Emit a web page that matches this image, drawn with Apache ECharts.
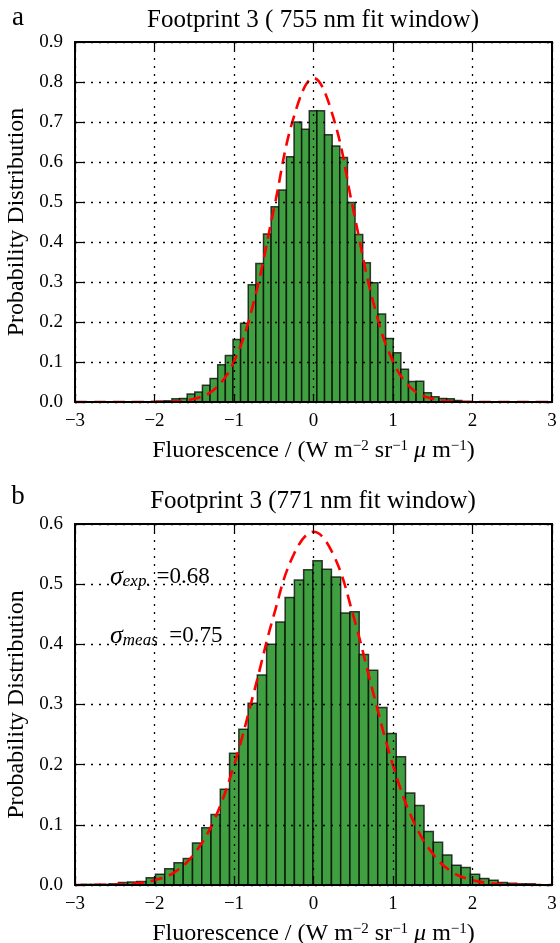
<!DOCTYPE html>
<html>
<head>
<meta charset="utf-8">
<script src="https://cdn.jsdelivr.net/npm/echarts@6/dist/echarts.min.js"></script>
<style>
  html, body { margin: 0; padding: 0; background: #fff; }
  #chart { width: 560px; height: 943px; }
</style>
</head>
<body>
<div id="chart"></div>
<script>
// panel a: 755 nm fit window histogram
const binStartA = -1.973
const binWidthA = 0.096
const countsA = [0.002, 0.003, 0.008, 0.009, 0.020, 0.025, 0.042, 0.059, 0.093, 0.116,
  0.156, 0.197, 0.293, 0.346, 0.420, 0.488, 0.530, 0.613, 0.700, 0.682,
  0.728, 0.728, 0.668, 0.640, 0.611, 0.499, 0.419, 0.348, 0.298, 0.220,
  0.159, 0.123, 0.082, 0.051, 0.052, 0.023, 0.013, 0.009, 0.008, 0.004]

// panel b: 771 nm fit window histogram
const binStartB = -2.92
const binWidthB = 0.1165
const countsB = [0.001, 0.001, 0.001, 0.002, 0.004, 0.005, 0.006, 0.012, 0.018, 0.027,
  0.037, 0.044, 0.070, 0.095, 0.117, 0.159, 0.219, 0.259, 0.302, 0.349,
  0.400, 0.437, 0.478, 0.507, 0.524, 0.539, 0.525, 0.512, 0.452, 0.454,
  0.383, 0.357, 0.295, 0.252, 0.213, 0.153, 0.132, 0.089, 0.071, 0.050,
  0.033, 0.029, 0.018, 0.011, 0.008, 0.004, 0.003, 0.002, 0.002]

// red dashed fits
const fitX = [-3, -2.75, -2.5, -2.25, -2, -1.75, -1.5, -1.25, -1, -0.75, -0.5, -0.25, 0,
  0.25, 0.5, 0.75, 1, 1.25, 1.5, 1.75, 2, 2.25, 2.5, 2.75, 3]
const fitA = [0, 0, 0, 0.0001, 0.0003, 0.0015, 0.008, 0.031, 0.101, 0.251, 0.481, 0.711, 0.81,
  0.711, 0.481, 0.251, 0.101, 0.031, 0.008, 0.0015, 0.0003, 0.0001, 0, 0, 0]
const fitB = [0, 0.0002, 0.0007, 0.0025, 0.008, 0.021, 0.052, 0.108, 0.199, 0.32, 0.448, 0.549, 0.587,
  0.549, 0.448, 0.32, 0.199, 0.108, 0.052, 0.021, 0.008, 0.0025, 0.0007, 0.0002, 0]

const titleA = 'Footprint 3 ( 755 nm fit window)'
const titleB = 'Footprint 3 (771 nm fit window)'

const FONT = '"Liberation Serif", "DejaVu Serif", serif'

function bins(start, width, counts) {
  return counts.map((c, i) => [start + i * width, start + (i + 1) * width, c])
}

function renderBar(params, api) {
  const p0 = api.coord([api.value(0), api.value(2)])
  const p1 = api.coord([api.value(1), 0])
  return {
    type: 'rect',
    shape: { x: p0[0], y: p0[1], width: p1[0] - p0[0], height: p1[1] - p0[1] },
    style: { fill: '#409f40', stroke: 'rgba(0,0,0,0.75)', lineWidth: 1.5 }
  }
}

const minus = v => String(v).replace('-', '\u2212')

function xAxes(gridIndex) {
  const base = {
    gridIndex, type: 'value', min: -3, max: 3, interval: 1, z: 5,
    axisLine: { onZero: false, lineStyle: { color: '#000', width: 2 } },
    axisTick: { inside: true, length: 8, lineStyle: { color: '#000', width: 1.2 } }
  }
  return [
    Object.assign({}, base, {
      position: 'bottom',
      axisLabel: { color: '#000', fontFamily: FONT, fontSize: 19, margin: 10, formatter: minus },
      splitLine: { show: true, lineStyle: { color: '#000', type: [2, 6], width: 1.3 } },
      name: '{t|Fluorescence / (W m}{s|\u22122}{t| sr}{s|\u22121}{t| }{i|\u03bc}{t| m}{s|\u22121}{t|)}',
      nameLocation: 'middle', nameGap: 37,
      nameTextStyle: {
        rich: {
          t: { fontFamily: FONT, fontSize: 24, color: '#000' },
          i: { fontFamily: FONT, fontSize: 24, fontStyle: 'italic', color: '#000' },
          s: { fontFamily: FONT, fontSize: 15, color: '#000', verticalAlign: 'top' }
        }
      }
    }),
    Object.assign({}, base, {
      position: 'top', axisLabel: { show: false }, splitLine: { show: false }
    })
  ]
}

function yAxes(gridIndex, max) {
  const base = {
    gridIndex, type: 'value', min: 0, max, interval: 0.1, z: 5,
    axisLine: { onZero: false, lineStyle: { color: '#000', width: 2 } },
    axisTick: { inside: true, length: 8, lineStyle: { color: '#000', width: 1.2 } }
  }
  return [
    Object.assign({}, base, {
      position: 'left',
      axisLabel: { color: '#000', fontFamily: FONT, fontSize: 19, margin: 12, formatter: v => v.toFixed(1) },
      splitLine: { show: true, lineStyle: { color: '#000', type: [2, 6], width: 1.3 } },
      name: 'Probability Distribution', nameLocation: 'middle', nameGap: 42,
      nameTextStyle: { fontFamily: FONT, fontSize: 24, color: '#000' }
    }),
    Object.assign({}, base, {
      position: 'right', axisLabel: { show: false }, splitLine: { show: false }
    })
  ]
}

function fitSeries(xAxisIndex, yAxisIndex, ys) {
  return {
    type: 'line', xAxisIndex, yAxisIndex, z: 4,
    data: fitX.map((x, i) => [x, ys[i]]),
    smooth: 0.4, showSymbol: false, silent: true,
    lineStyle: { color: '#ff0000', width: 2.6, type: [12, 7] }
  }
}

const chart = echarts.init(document.getElementById('chart'), null, { renderer: 'canvas' })

const sigmaRich = {
  g: { fontFamily: FONT, fontSize: 26, fontStyle: 'italic', color: '#000' },
  sub: { fontFamily: FONT, fontSize: 17, fontStyle: 'italic', color: '#000', verticalAlign: 'bottom' },
  v: { fontFamily: FONT, fontSize: 23, color: '#000' }
}

chart.setOption({
  animation: false,
  backgroundColor: '#fff',
  grid: [
    { left: 75, top: 42, width: 477, height: 360, outerBoundsMode: 'none', containLabel: false },
    { left: 75, top: 524, width: 477, height: 361, outerBoundsMode: 'none', containLabel: false }
  ],
  xAxis: [...xAxes(0), ...xAxes(1)],
  yAxis: [...yAxes(0, 0.9), ...yAxes(1, 0.6)],
  series: [
    {
      type: 'custom', xAxisIndex: 0, yAxisIndex: 0, z: 2,
      renderItem: renderBar, encode: { x: [0, 1], y: 2 },
      data: bins(binStartA, binWidthA, countsA)
    },
    fitSeries(0, 0, fitA),
    {
      type: 'custom', xAxisIndex: 2, yAxisIndex: 2, z: 2,
      renderItem: renderBar, encode: { x: [0, 1], y: 2 },
      data: bins(binStartB, binWidthB, countsB)
    },
    fitSeries(2, 2, fitB)
  ],
  graphic: [
    { type: 'text', x: 313, y: 20, style: { text: titleA, font: '25px ' + FONT, fill: '#000', align: 'center', verticalAlign: 'middle' } },
    { type: 'text', x: 313, y: 501, style: { text: titleB, font: '25px ' + FONT, fill: '#000', align: 'center', verticalAlign: 'middle' } },
    { type: 'text', x: 18, y: 18, style: { text: 'a', font: '27px ' + FONT, fill: '#000', align: 'center', verticalAlign: 'middle' } },
    { type: 'text', x: 18, y: 497, style: { text: 'b', font: '27px ' + FONT, fill: '#000', align: 'center', verticalAlign: 'middle' } },
    { type: 'text', x: 110, y: 577, z: 10, style: { text: '{g|\u03c3}{sub|exp.}{v| =0.68}', rich: sigmaRich, verticalAlign: 'middle' } },
    { type: 'text', x: 110, y: 636, z: 10, style: { text: '{g|\u03c3}{sub|meas}{v|  =0.75}', rich: sigmaRich, verticalAlign: 'middle' } }
  ]
})
</script>
</body>
</html>
